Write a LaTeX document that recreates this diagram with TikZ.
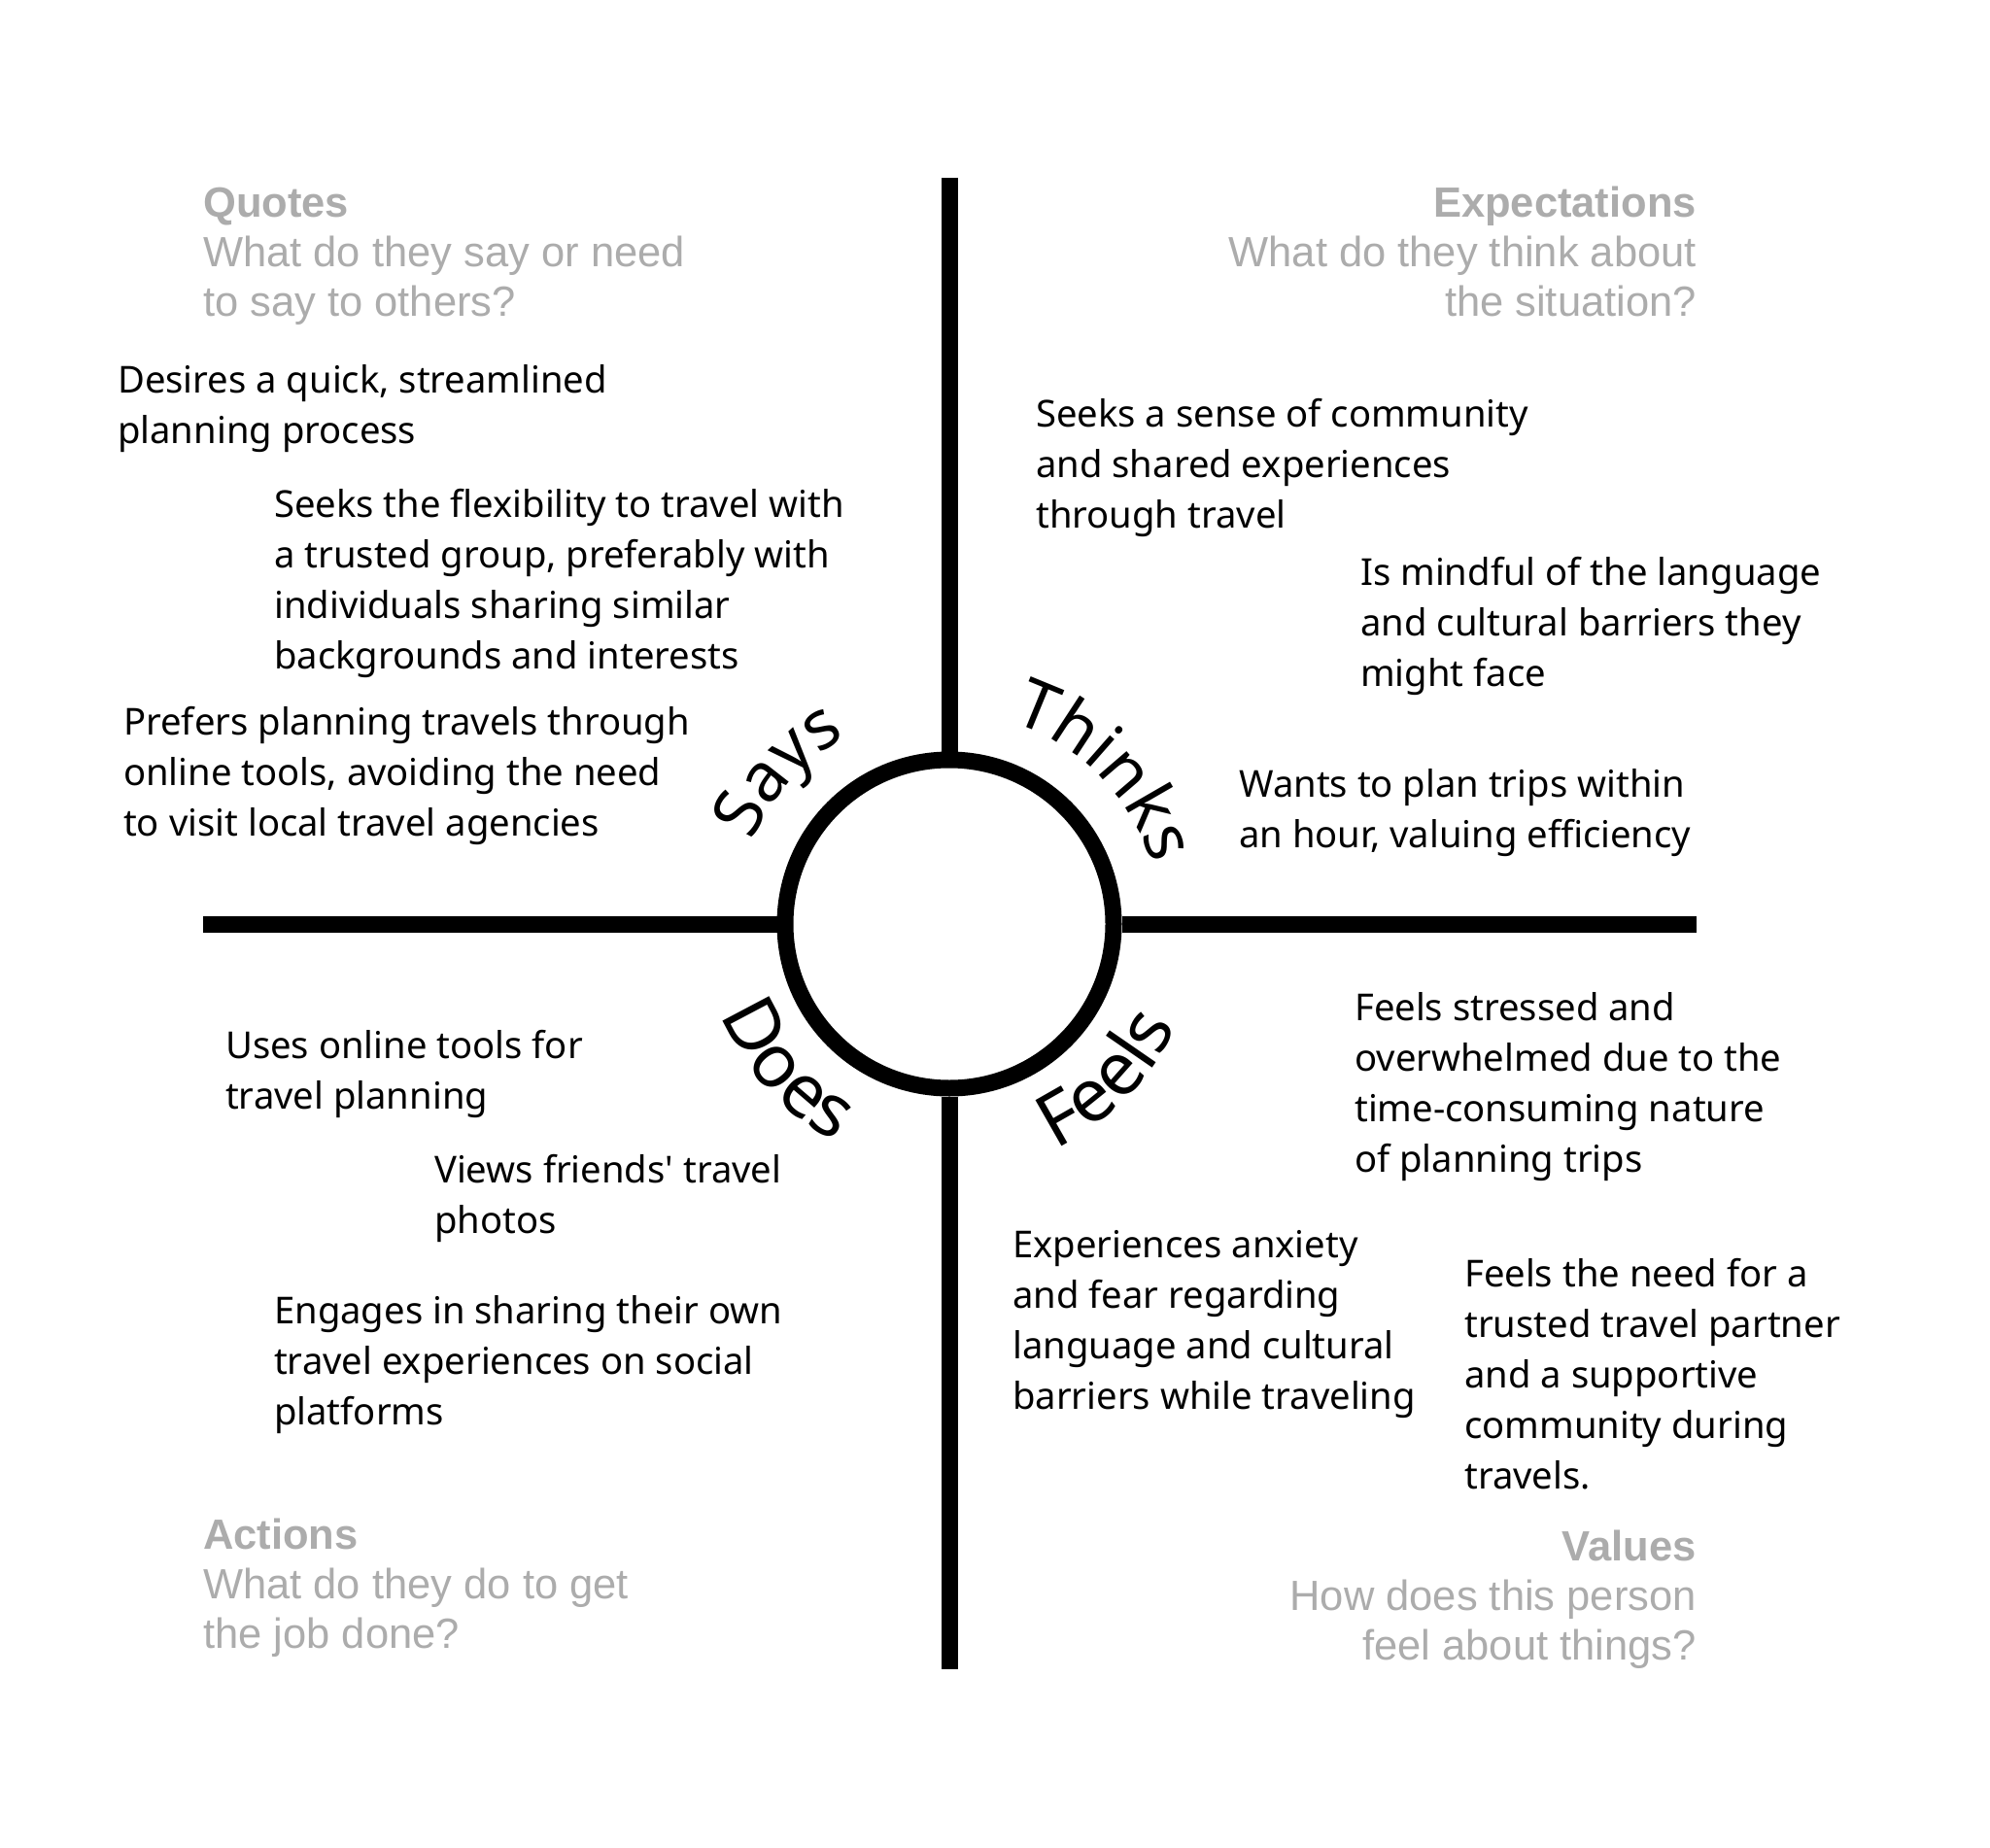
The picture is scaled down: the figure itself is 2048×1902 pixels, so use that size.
\documentclass[tikz,border=0pt]{standalone}
\usepackage{fontspec}
\usetikzlibrary{decorations.text}
\setmainfont{Noto Sans}
\newfontfamily\greyfam{Liberation Sans}
\definecolor{greytxt}{RGB}{172,172,172}
\newcommand\blk[1]{\begin{tabular}[t]{@{}l@{}}#1\end{tabular}}
\newcommand\blkr[1]{\begin{tabular}[t]{@{}r@{}}#1\end{tabular}}
\newcommand\quadfont{\fontsize{70}{70}\selectfont}
\newcommand\quadfontb{\fontsize{76}{76}\selectfont}
\tikzset{
  body/.style={inner sep=0pt, font=\fontsize{38.2}{52}\selectfont, anchor=base west, text=black},
  hint/.style={inner sep=0pt, font=\greyfam\fontsize{43.5}{51}\selectfont, text=greytxt},
  hintl/.style={hint, anchor=base west},
  hintr/.style={hint, anchor=base east},
  axis/.style={line width=17pt, black},
  arclabel/.style={decorate, decoration={text along path, text align=center, text={|\quadfont|#1}}},
  arclabelb/.style={decorate, decoration={text along path, text align=center, text={|\quadfontb|#1}}}
}
\begin{document}
\begin{tikzpicture}[x=1pt, y=-1pt]
\useasboundingbox[fill=white] (0,0) rectangle (2048,1902);
% axes
\coordinate (top) at (977,183);
\coordinate (bottom) at (977,1718);
\coordinate (left) at (209,951);
\coordinate (right) at (1746,951);
\node[circle, draw, line width=17pt, fill=white, minimum size=338pt, inner sep=0pt] (hub) at (977,951) {};
\draw[axis] (top) -- (hub.north);
\draw[axis] (hub.south) -- (bottom);
\draw[axis] (left) -- (hub.west);
\draw[axis] (hub.east) -- (right);
% quadrant labels, set along arcs round the hub
\begin{scope}[shift={(hub.center)}, x=1pt, y=1pt]
  \path[arclabel=Says] (178:220) arc[start angle=178, end angle=98, radius=220];
  \path[arclabel=Thinks] (85:217) arc[start angle=85, end angle=4, radius=217];
  \path[arclabelb=Does] (182:253) arc[start angle=182, end angle=262, radius=253];
  \path[arclabelb=Feels] (275:256) arc[start angle=275, end angle=356, radius=256];
\end{scope}
% hints
\node[hintl] (quotes) at (209,224) {\blk{\textbf{Quotes}\\What do they say or need\\to say to others?}};
\node[hintr] (expect) at (1746,224) {\blkr{\textbf{Expectations}\\What do they think about\\the situation?}};
\node[hintl] (actions) at (209,1594) {\blk{\textbf{Actions}\\What do they do to get\\the job done?}};
\node[hintr] (values) at (1746,1606) {\blkr{\textbf{Values}\\How does this person\\feel about things?}};
% says
\node[body] (s1) at (121,404) {\blk{Desires a quick, streamlined\\planning process}};
\node[body] (s2) at (282,532) {\blk{Seeks the flexibility to travel with\\a trusted group, preferably with\\individuals sharing similar\\backgrounds and interests}};
\node[body] (s3) at (127,756) {\blk{Prefers planning travels through\\online tools, avoiding the need\\to visit local travel agencies}};
% thinks
\node[body] (t1) at (1066,439) {\blk{Seeks a sense of community\\and shared experiences\\through travel}};
\node[body] (t2) at (1400,602) {\blk{Is mindful of the language\\and cultural barriers they\\might face}};
\node[body] (t3) at (1275,820) {\blk{Wants to plan trips within\\an hour, valuing efficiency}};
% feels
\node[body] (f1) at (1394,1050) {\blk{Feels stressed and\\overwhelmed due to the\\time-consuming nature\\of planning trips}};
\node[body] (f2) at (1042,1294) {\blk{Experiences anxiety\\and fear regarding\\language and cultural\\barriers while traveling}};
\node[body] (f3) at (1507,1324) {\blk{Feels the need for a\\trusted travel partner\\and a supportive\\community during\\travels.}};
% does
\node[body] (d1) at (232,1089) {\blk{Uses online tools for\\travel planning}};
\node[body] (d2) at (447,1217) {\blk{Views friends\textquotesingle\ travel\\photos}};
\node[body] (d3) at (282,1362) {\blk{Engages in sharing their own\\travel experiences on social\\platforms}};
\end{tikzpicture}
\end{document}
